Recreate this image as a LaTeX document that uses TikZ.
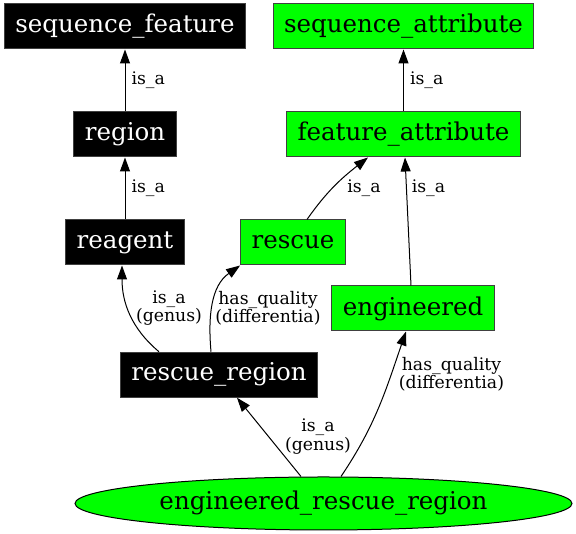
\documentclass[tikz,border=0pt]{standalone}
\usepackage{fontspec}
\setmainfont{DejaVu Serif}
\usetikzlibrary{shapes.geometric, arrows.meta, positioning, calc}

\begin{document}
\begin{tikzpicture}[x=1pt, y=1pt,
    blackbox/.style={rectangle, draw=black!75, fill=black, text=white, line width=1pt,
        minimum height=45pt, inner xsep=11pt, font=\fontsize{24.5}{29}\selectfont},
    greenbox/.style={blackbox, fill=green, text=black},
    greenoval/.style={ellipse, draw=black, fill=green, line width=1pt, inner sep=0pt,
        minimum width=497pt, minimum height=53pt, font=\fontsize{24.5}{29}\selectfont},
    edgelbl/.style={inner sep=0pt, align=center, font=\fontsize{17.3}{16.7}\selectfont},
    isa/.style={-{Triangle[length=14pt, width=10pt]}, line width=1pt}]
\useasboundingbox (0,0) rectangle (576,534);
% Left column - black terms
\node[blackbox] (seqfeat) at (125,507.5) {sequence\_feature};
\node[blackbox] (region) at (125,399.5) {region};
\node[blackbox] (reagent) at (125,291.5) {reagent};
\node[blackbox] (rescreg) at (219,159.25) {rescue\_region};
% Right column - green terms
\node[greenbox] (seqattr) at (403.5,507.5) {sequence\_attribute};
\node[greenbox] (featattr) at (403.5,399.5) {feature\_attribute};
\node[greenbox] (rescue) at (293,291.5) {rescue};
\node[greenbox] (engineered) at (413,225.5) {engineered};
% Defined term at the bottom
\node[greenoval] (engrescreg) at (323.5,30.5) {engineered\_rescue\_region};

% Straight is_a chains
\draw[isa] (region) -- (seqfeat) node[edgelbl, midway, right=6pt] (lregion) {is\_a};
\draw[isa] (reagent) -- (region) node[edgelbl, midway, right=6pt] (lreagent) {is\_a};
\draw[isa] (featattr) -- (seqattr) node[edgelbl, midway, right=6pt] (lfeatattr) {is\_a};
\draw[isa] ([xshift=-2pt]engineered.north) -- ([xshift=1.5pt]featattr.south);
\node[edgelbl] (lengineered) at (428.5,346) {is\_a};
\draw[isa] ([xshift=14pt]rescue.north) to[out=55, in=-142] ([xshift=-35.5pt]featattr.south);
\node[edgelbl] (lrescue) at (364,346) {is\_a};

% rescue_region = reagent + rescue
\draw[isa] ([xshift=-60pt]rescreg.north) to[out=140, in=-90] ([xshift=-3pt]reagent.south);
\node[edgelbl] (lrrgenus) at (169,226) {is\_a\\(genus)};
\draw[isa] ([xshift=-8pt]rescreg.north) to[out=95, in=-145] (rescue.south west);
\node[edgelbl] (lrrdiff) at (268,226) {has\_quality\\(differentia)};

% engineered_rescue_region = rescue_region + engineered
\draw[isa] ([xshift=-22.5pt]engrescreg.north) -- ([xshift=18pt]rescreg.south);
\node[edgelbl] (lergenus) at (318,97.5) {is\_a\\(genus)};
\draw[isa] ([xshift=17.5pt]engrescreg.north) to[out=56, in=-109] ([xshift=-7pt]engineered.south);
\node[edgelbl] (lerdiff) at (451.5,159.5) {has\_quality\\(differentia)};
\end{tikzpicture}
\end{document}
